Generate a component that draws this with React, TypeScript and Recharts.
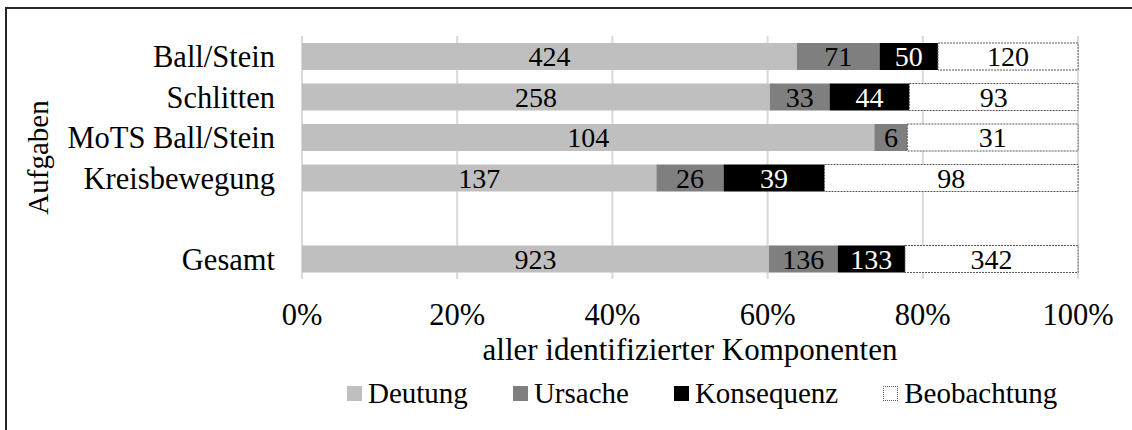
import React from 'react';
import { BarChart, Bar, XAxis, YAxis, CartesianGrid, Legend, LabelList } from 'recharts';

const categories = ['Ball/Stein', 'Schlitten', 'MoTS Ball/Stein', 'Kreisbewegung', ' ', 'Gesamt'];
const deutung = [424, 258, 104, 137, null, 923];
const ursache = [71, 33, 6, 26, null, 136];
const konsequenz = [50, 44, 0, 39, null, 133];
const beobachtung = [120, 93, 31, 98, null, 342];
const xTicks = [0, 0.2, 0.4, 0.6, 0.8, 1];

const seriesNames = ['Deutung', 'Ursache', 'Konsequenz', 'Beobachtung'];

const data = categories.map((c, i) => ({
  name: c,
  deutung: deutung[i],
  ursache: ursache[i],
  konsequenz: konsequenz[i],
  beobachtung: beobachtung[i],
}));

const FONT = '"Liberation Serif", "Times New Roman", serif';

const fmt = (v: any) => (v === null || v === undefined || v === 0 ? '' : String(v));

const legendItems = [
  { name: seriesNames[0], fill: '#bfbfbf', border: 'none' },
  { name: seriesNames[1], fill: '#7f7f7f', border: 'none' },
  { name: seriesNames[2], fill: '#000000', border: 'none' },
  { name: seriesNames[3], fill: '#ffffff', border: '1px dotted #595959' },
];

const LegendContent = () => (
  <div
    style={{
      display: 'flex',
      alignItems: 'center',
      height: 30,
      paddingLeft: 347,
      fontFamily: FONT,
      fontSize: 29,
      color: '#000',
      lineHeight: '30px',
      boxSizing: 'border-box',
    }}
  >
    {legendItems.map((it, i) => (
      <div key={it.name} style={{ display: 'flex', alignItems: 'center', marginRight: i < legendItems.length - 1 ? 45 : 0 }}>
        <span
          style={{
            display: 'inline-block',
            width: 15,
            height: 15,
            background: it.fill,
            border: it.border,
            boxSizing: 'border-box',
            marginRight: 6,
          }}
        />
        <span>{it.name}</span>
      </div>
    ))}
  </div>
);

export default function App() {
  return (
    <div style={{ position: 'absolute', left: 0, top: 0, width: 1132, height: 430, overflow: 'hidden', background: '#fff' }}>
      <div
        style={{
          position: 'absolute',
          left: 5,
          top: 7,
          width: 1300,
          height: 700,
          border: '2px solid #262626',
          boxSizing: 'border-box',
        }}
      />
      <div style={{ position: 'absolute', left: 0, top: 0 }}>
        <BarChart
          width={1132}
          height={430}
          data={data}
          layout="vertical"
          stackOffset="expand"
          barSize={27}
          margin={{ top: 36, right: 54, left: 0, bottom: 22 }}
        >
          <CartesianGrid horizontal={false} vertical={true} stroke="#d9d9d9" strokeWidth={2} />
          <XAxis
            type="number"
            domain={[0, 1]}
            ticks={xTicks}
            interval={0}
            tickFormatter={(v: number) => `${Math.round(v * 100)}%`}
            axisLine={false}
            tickLine={false}
            tickSize={6}
            tickMargin={18}
            height={99}
            tick={{ fill: '#000', fontSize: 30.5, fontFamily: FONT }}
            label={{
              value: 'aller identifizierter Komponenten',
              position: 'insideTop',
              offset: 59,
              fill: '#000',
              fontSize: 31,
              fontFamily: FONT,
            }}
          />
          <YAxis
            type="category"
            dataKey="name"
            width={302}
            axisLine={false}
            tickLine={false}
            tickSize={6}
            tickMargin={21}
            interval={0}
            tick={{ fill: '#000', fontSize: 30.5, fontFamily: FONT }}
            label={{
              value: 'Aufgaben',
              angle: -90,
              position: 'insideLeft',
              offset: 38,
              fill: '#000',
              fontSize: 29,
              fontFamily: FONT,
              style: { textAnchor: 'middle' },
            }}
          />
          <Legend
            verticalAlign="bottom"
            layout="horizontal"
            wrapperStyle={{ left: 0, width: 1132 }}
            content={<LegendContent />}
          />
          <Bar dataKey="deutung" name="Deutung" stackId="a" fill="#bfbfbf" isAnimationActive={false}>
            <LabelList dataKey="deutung" position="center" formatter={fmt} fill="#000" fontSize={28} fontFamily={FONT} />
          </Bar>
          <Bar dataKey="ursache" name="Ursache" stackId="a" fill="#7f7f7f" isAnimationActive={false}>
            <LabelList dataKey="ursache" position="center" formatter={fmt} fill="#000" fontSize={28} fontFamily={FONT} />
          </Bar>
          <Bar dataKey="konsequenz" name="Konsequenz" stackId="a" fill="#000000" isAnimationActive={false}>
            <LabelList dataKey="konsequenz" position="center" formatter={fmt} fill="#fff" fontSize={28} fontFamily={FONT} />
          </Bar>
          <Bar
            dataKey="beobachtung"
            name="Beobachtung"
            stackId="a"
            fill="#ffffff"
            stroke="#595959"
            strokeWidth={1}
            strokeDasharray="2 1"
            isAnimationActive={false}
          >
            <LabelList dataKey="beobachtung" position="center" formatter={fmt} fill="#000" fontSize={28} fontFamily={FONT} />
          </Bar>
        </BarChart>
      </div>
    </div>
  );
}
